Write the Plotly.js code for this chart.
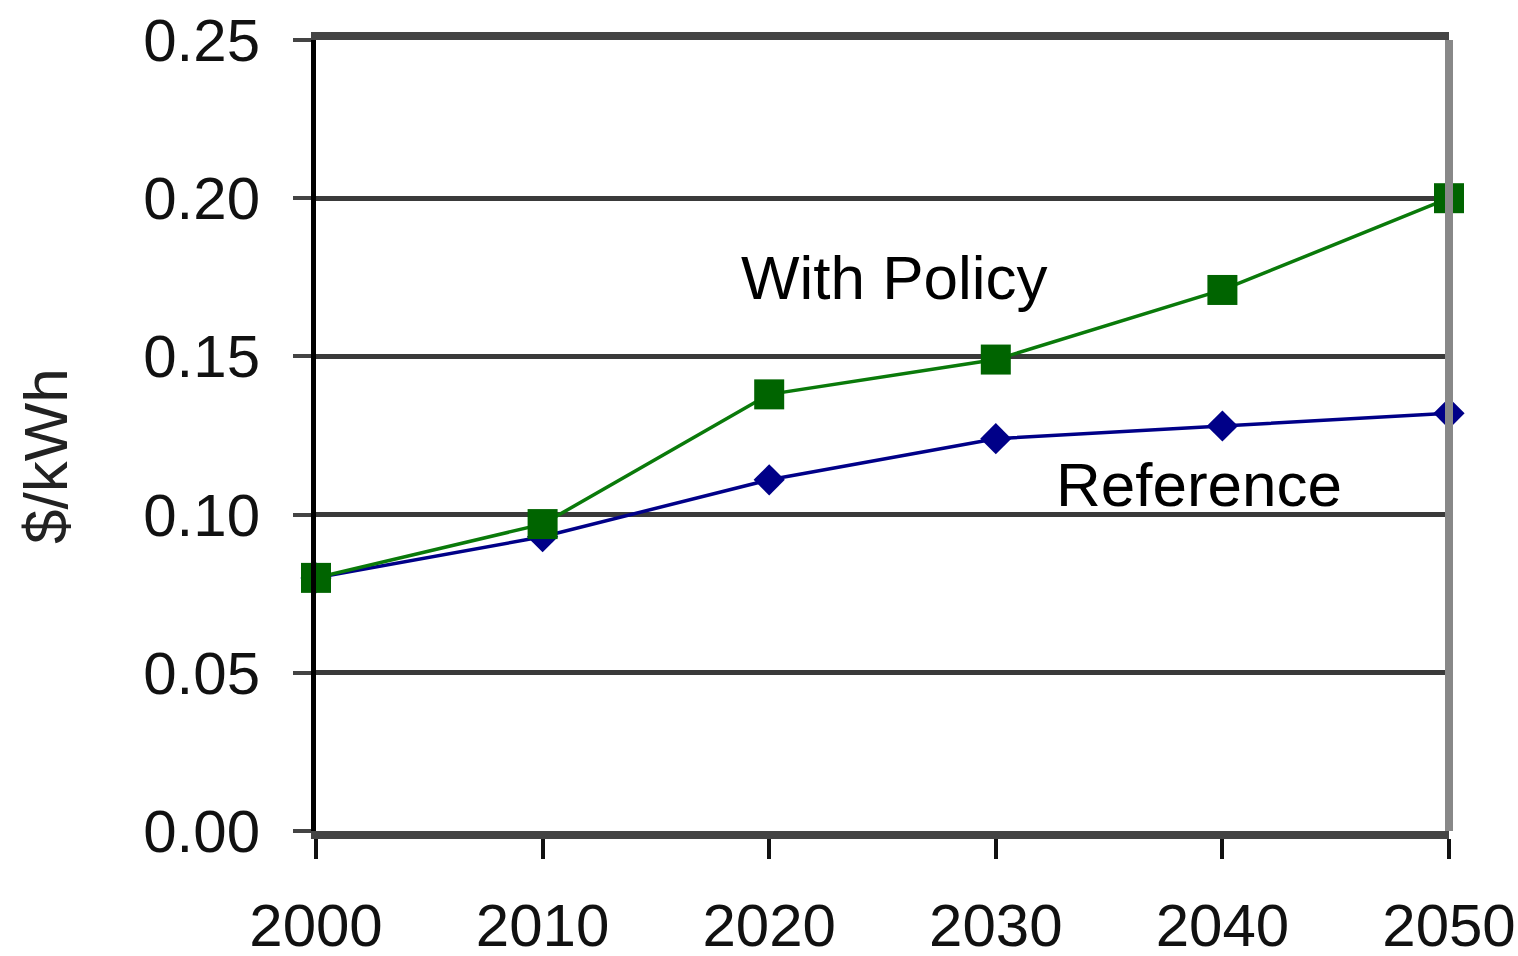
<!DOCTYPE html>
<html>
<head>
<meta charset="utf-8">
<script src="https://cdn.plot.ly/plotly-3.0.1.min.js"></script>
<style>html,body{margin:0;padding:0;background:#fff;}#chart{width:1518px;height:956px;}</style>
</head>
<body>
<div id="chart"></div>
<script>
const years = [2000, 2010, 2020, 2030, 2040, 2050];
const withPolicy = [0.080, 0.097, 0.138, 0.149, 0.171, 0.200];
const reference = [0.080, 0.093, 0.111, 0.124, 0.128, 0.132];
const yTicks = [0, 0.05, 0.10, 0.15, 0.20, 0.25];
const yTickLabels = ['0.00', '0.05', '0.10', '0.15', '0.20', '0.25'];
const seriesNames = ['With Policy', 'Reference'];
const yTitle = '$/kWh';

const font = 'Liberation Sans, Arial, sans-serif';

const traces = [
  {
    x: years, y: reference, name: seriesNames[1], type: 'scatter', mode: 'lines+markers',
    line: {color: '#000088', width: 3.5},
    marker: {symbol: 'diamond', size: 24, color: '#000088'},
    cliponaxis: false
  },
  {
    x: years, y: withPolicy, name: seriesNames[0], type: 'scatter', mode: 'lines+markers',
    line: {color: '#0a7a0a', width: 3.5},
    marker: {symbol: 'square', size: 30, color: '#006400'},
    cliponaxis: false
  }
];

const layout = {
  width: 1518, height: 956,
  margin: {l: 316, r: 69, t: 40, b: 125},
  paper_bgcolor: '#fff', plot_bgcolor: '#fff',
  showlegend: false,
  font: {family: font, color: '#000'},
  xaxis: {
    range: [2000, 2050], tickvals: years, ticktext: years.map(String),
    showgrid: false, zeroline: false,
    showline: true, linecolor: '#444', linewidth: 8, mirror: true,
    ticks: 'outside', ticklen: 20, tickwidth: 4, tickcolor: '#111',
    tickfont: {size: 60, color: '#111', family: font},
    ticklabelstandoff: 15
  },
  yaxis: {
    range: [0, 0.25], tickvals: yTicks, ticktext: yTickLabels,
    showgrid: true, gridcolor: '#3a3a3a', gridwidth: 5, zeroline: false,
    showline: true, linecolor: '#000', linewidth: 5,
    ticks: 'outside', ticklen: 18, tickwidth: 4, tickcolor: '#444',
    tickfont: {size: 60, color: '#111', family: font},
    ticklabelstandoff: 21
  },
  shapes: [
    {type: 'line', xref: 'paper', yref: 'paper', x0: 1, x1: 1, y0: 0, y1: 1,
     line: {color: '#888', width: 8}}
  ],
  annotations: [
    {x: 2025.55, y: 0.1748, xref: 'x', yref: 'y', text: seriesNames[0], showarrow: false,
     font: {size: 62, color: '#000', family: font}},
    {x: 2038.97, y: 0.1094, xref: 'x', yref: 'y', text: seriesNames[1], showarrow: false,
     font: {size: 62, color: '#000', family: font}},
    {x: -0.2392, y: 0.474, xref: 'paper', yref: 'paper', xanchor: 'center', yanchor: 'middle',
     text: yTitle, showarrow: false,
     textangle: -90, font: {size: 62, color: '#222', family: font}}
  ]
};

Plotly.newPlot('chart', traces, layout, {displayModeBar: false, staticPlot: true});
</script>
</body>
</html>
